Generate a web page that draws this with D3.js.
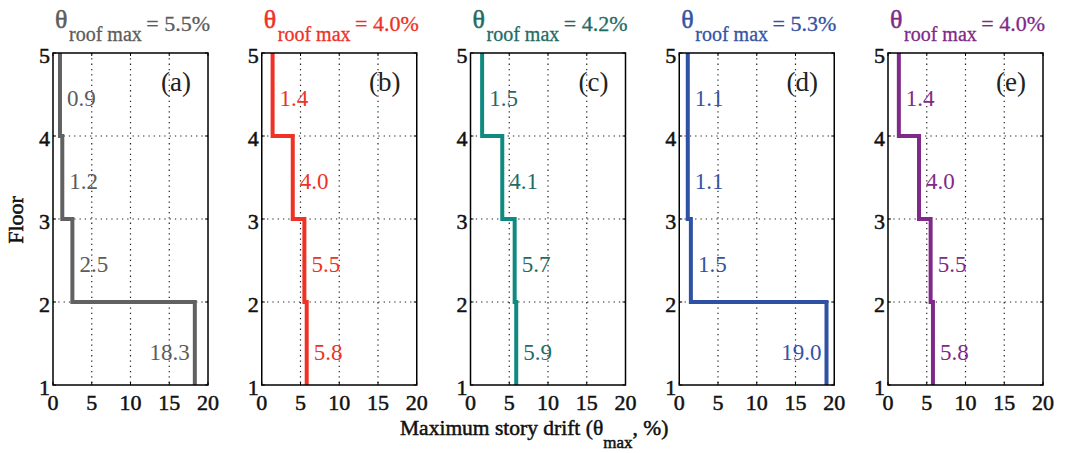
<!DOCTYPE html>
<html>
<head>
<meta charset="utf-8">
<script src="https://cdn.jsdelivr.net/npm/d3@7"></script>
<style>
  body { margin: 0; background: #fff; }
  svg text { font-family: "Liberation Serif", "Times New Roman", Times, serif; }
</style>
</head>
<body>
<div id="chart"></div>
<script>
const W = 1065, H = 453;

// data: story drift (%) for stories 1..4, per case
const panels = ["(a)", "(b)", "(c)", "(d)", "(e)"];
const roofMax = ["5.5", "4.0", "4.2", "5.3", "4.0"];
const driftA = [18.3, 2.5, 1.2, 0.9];
const driftB = [5.8, 5.5, 4.0, 1.4];
const driftC = [5.9, 5.7, 4.1, 1.5];
const driftD = [19.0, 1.5, 1.1, 1.1];
const driftE = [5.8, 5.5, 4.0, 1.4];
const drifts = [driftA, driftB, driftC, driftD, driftE];
const xTicks = [0, 5, 10, 15, 20];
const yTicks = [1, 2, 3, 4, 5];

const lineColors = ["#616161", "#ee3226", "#0f8a80", "#2f51a3", "#7f2a88"];
const textColors = ["#5c5c5c", "#ee3226", "#1f6c66", "#3354a6", "#7f2a88"];

const svg = d3.select("#chart").append("svg")
    .attr("width", W).attr("height", H);

const pw = 155, yTop = 53, yBot = 385;
const y = d3.scaleLinear().domain([1, 5]).range([yBot, yTop]);

panels.forEach(function(name, i) {
    const left = 53 + i * 208.75;
    const x = d3.scaleLinear().domain([0, 20]).range([left, left + pw]);
    const g = svg.append("g");

    // grid
    g.selectAll("line.gx").data(xTicks.slice(1, -1)).enter().append("line")
        .attr("x1", d => x(d)).attr("x2", d => x(d))
        .attr("y1", yTop).attr("y2", yBot)
        .attr("stroke", "#222").attr("stroke-width", 1.2).attr("stroke-dasharray", "1.3,4");
    g.selectAll("line.gy").data(yTicks.slice(1, -1)).enter().append("line")
        .attr("y1", d => y(d)).attr("y2", d => y(d))
        .attr("x1", left).attr("x2", left + pw)
        .attr("stroke", "#222").attr("stroke-width", 1.2).attr("stroke-dasharray", "1.3,4");

    // inward ticks
    xTicks.forEach(function(t) {
        g.append("line").attr("x1", x(t)).attr("x2", x(t)).attr("y1", yBot).attr("y2", yBot - 3).attr("stroke", "#000");
        g.append("line").attr("x1", x(t)).attr("x2", x(t)).attr("y1", yTop).attr("y2", yTop + 3).attr("stroke", "#000");
    });
    yTicks.forEach(function(t) {
        g.append("line").attr("y1", y(t)).attr("y2", y(t)).attr("x1", left).attr("x2", left + 3).attr("stroke", "#000");
        g.append("line").attr("y1", y(t)).attr("y2", y(t)).attr("x1", left + pw).attr("x2", left + pw - 3).attr("stroke", "#000");
    });

    // tick labels
    g.selectAll("text.xt").data(xTicks).enter().append("text")
        .attr("x", d => x(d)).attr("y", yBot + 25)
        .attr("text-anchor", "middle").attr("font-size", 22)
        .attr("fill", "#111").attr("stroke", "#111").attr("stroke-width", 0.5)
        .text(d => d);
    g.selectAll("text.yt").data(yTicks).enter().append("text")
        .attr("x", left - 3).attr("y", d => y(d) + 10)
        .attr("text-anchor", "end").attr("font-size", 22)
        .attr("fill", "#111").attr("stroke", "#111").attr("stroke-width", 0.5)
        .text(d => d);

    // step line
    const d = drifts[i];
    const pts = [];
    d.forEach(function(v, s) {
        pts.push([v, s + 1]);
        pts.push([v, s + 2]);
    });
    const line = d3.line().x(p => x(p[0])).y(p => y(p[1]));
    g.append("path").attr("d", line(pts))
        .attr("fill", "none").attr("stroke", lineColors[i])
        .attr("stroke-width", 4).attr("stroke-linejoin", "miter");

    // value labels
    d.forEach(function(v, s) {
        const ly = s === 0 ? y(1.4) + 8 : y(s + 1.46) + 8;
        const big = v > 15;
        g.append("text")
            .attr("x", big ? x(v) - 5 : x(v) + 7)
            .attr("y", ly)
            .attr("text-anchor", big ? "end" : "start")
            .attr("font-size", 23)
            .attr("fill", textColors[i])
            .text(v.toFixed(1));
    });

    // box
    g.append("rect").attr("x", left).attr("y", yTop).attr("width", pw).attr("height", yBot - yTop)
        .attr("fill", "none").attr("stroke", "#000").attr("stroke-width", 1.5);

    // panel name
    g.append("text").attr("x", left + 123).attr("y", yTop + 38)
        .attr("text-anchor", "middle").attr("font-size", 27).attr("fill", "#222")
        .text(name);

    // title
    const tc = textColors[i];
    g.append("text").attr("x", left + 2).attr("y", 28)
        .attr("font-size", 26).attr("fill", tc).attr("stroke", tc).attr("stroke-width", 0.5)
        .text("θ");
    g.append("text").attr("x", left + 16).attr("y", 41)
        .attr("font-size", 20).attr("fill", tc).attr("stroke", tc).attr("stroke-width", 0.3)
        .text("roof max");
    g.append("text").attr("x", left + 157).attr("y", 31)
        .attr("text-anchor", "end").attr("font-size", 22).attr("fill", tc).attr("stroke", tc).attr("stroke-width", 0.3)
        .text("= " + roofMax[i] + "%");
});

// axis titles
svg.append("text")
    .attr("transform", "translate(23,220) rotate(-90)")
    .attr("text-anchor", "middle").attr("font-size", 22)
    .attr("fill", "#111").attr("stroke", "#111").attr("stroke-width", 0.5)
    .text("Floor");

const xt = svg.append("text").attr("x", 400).attr("y", 435)
    .attr("font-size", 21.5).attr("fill", "#111").attr("stroke", "#111").attr("stroke-width", 0.5);
xt.append("tspan").text("Maximum story drift (θ");
xt.append("tspan").attr("font-size", 17).attr("dy", 13).text("max");
xt.append("tspan").attr("dy", -13).text(", %)");
</script>
</body>
</html>
